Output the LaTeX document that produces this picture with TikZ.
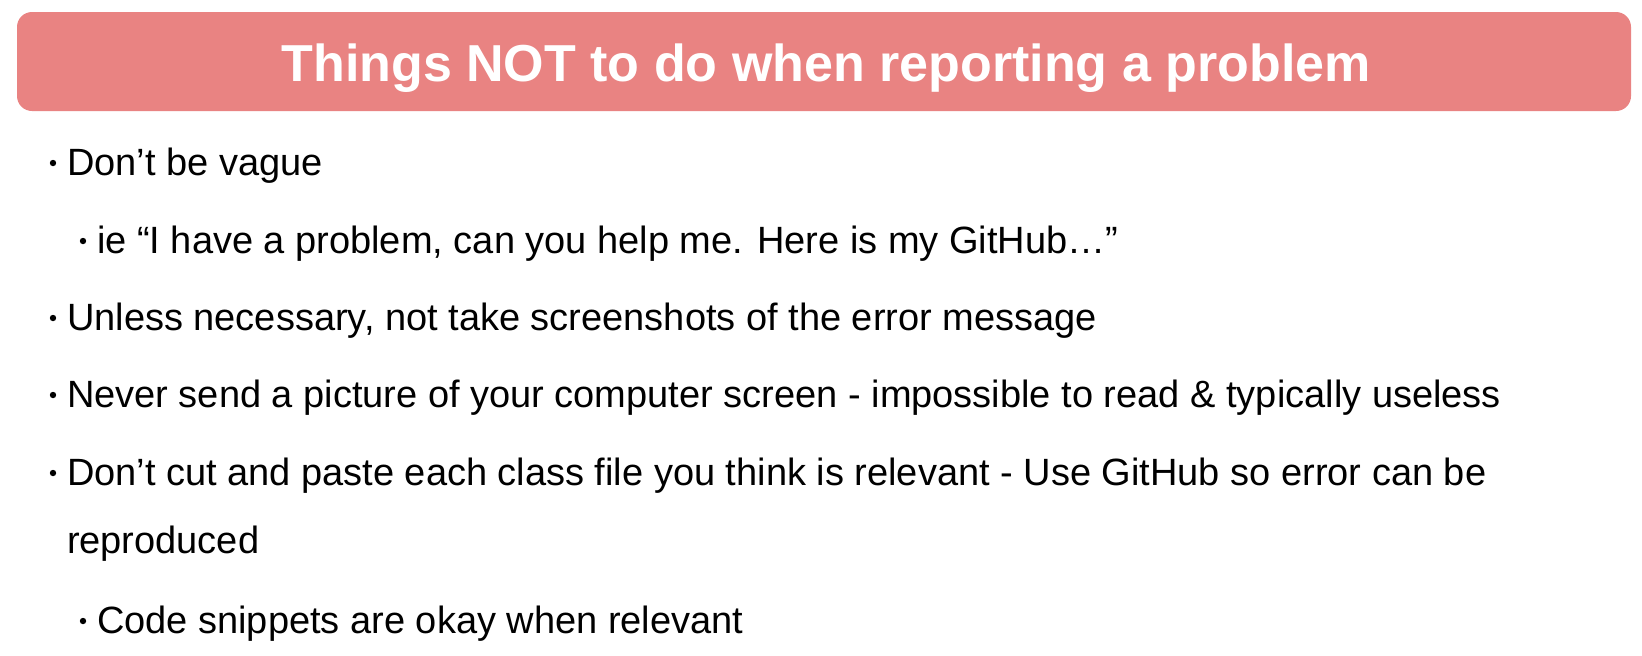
\documentclass[tikz,border=0pt]{standalone}
\usepackage{fontspec}
\setmainfont{Liberation Sans}
\definecolor{banner}{RGB}{233,131,130}
\begin{document}
\begin{tikzpicture}[x=0.5pt,y=-0.5pt,
  txt/.style={anchor=base west,inner sep=0pt,outer sep=0pt,font=\fontsize{19}{34}\selectfont,align=left},
  dot/.style={circle,fill=black,inner sep=0pt,minimum size=3.2pt},
  titlebox/.style={fill=banner,rounded corners=7.5pt}]
\useasboundingbox (0,0) rectangle (1642,655);
\fill[titlebox] (17,12) rectangle (1631,111);
\node[anchor=base,inner sep=0pt,text=white,font=\bfseries\fontsize{26}{30}\selectfont] (title) at (826,81) {Things NOT to do when reporting a problem};
% level 1 bullets
\node[dot] (b1) at (53,163) {};
\node[txt] (t1) at (67,175) {Don’t be vague};
\node[dot] (b2) at (83,241) {};
\node[txt] (t2) at (97,253) {ie “I have a problem, can you help me. Here is my GitHub…”};
\node[dot] (b3) at (53,318) {};
\node[txt] (t3) at (67,330) {Unless necessary, not take screenshots of the error message};
\node[dot] (b4) at (53,395) {};
\node[txt] (t4) at (67,407) {Never send a picture of your computer screen - impossible to read \& typically useless};
\node[dot] (b5) at (53,473) {};
\node[txt] (t5) at (67,485) {Don’t cut and paste each class file you think is relevant - Use GitHub so error can be};
\node[txt] (t5b) at (67,553) {reproduced};
\node[dot] (b6) at (83,621) {};
\node[txt] (t6) at (97,633) {Code snippets are okay when relevant};
\end{tikzpicture}
\end{document}
